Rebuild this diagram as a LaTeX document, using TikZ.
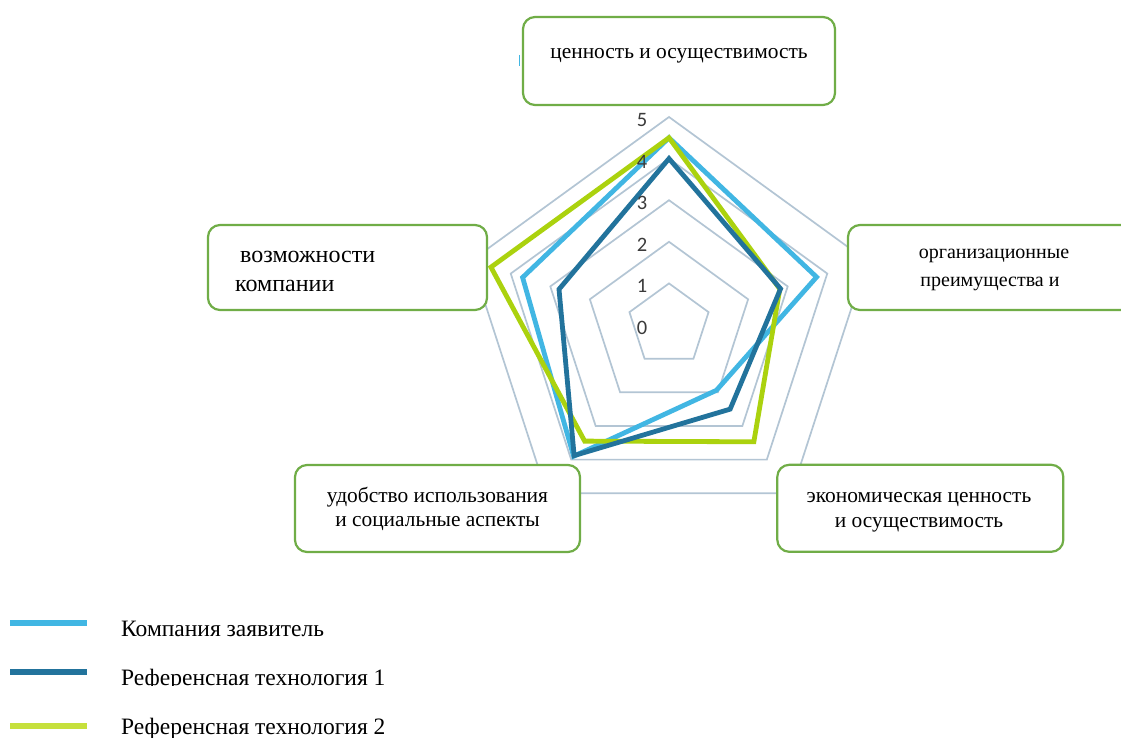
\documentclass[tikz,border=0pt]{standalone}
\usepackage{fontspec}
\setmainfont{Liberation Serif}
\newfontfamily\axisfont{Carlito}
\definecolor{gridline}{HTML}{B3C5D4}
\definecolor{seriesA}{HTML}{41B6E3}
\definecolor{seriesB}{HTML}{22739C}
\definecolor{seriesC}{HTML}{ABD20E}
\definecolor{legendC}{HTML}{C6E03C}
\definecolor{boxgreen}{HTML}{70AD47}
\definecolor{axislabel}{HTML}{3A3A3A}
\begin{document}
\begin{tikzpicture}[x=1pt,y=-1pt,
  labelbox/.style={draw=boxgreen, line width=2.2pt, rounded corners=12pt, fill=white, inner sep=0pt},
  boxtext/.style={font=\fontsize{21.4}{24}\selectfont, inner sep=0pt},
  smalltext/.style={font=\fontsize{20}{24}\selectfont, inner sep=0pt},
  bigtext/.style={font=\fontsize{24}{28}\selectfont, inner sep=0pt},
  legendtext/.style={font=\fontsize{23.5}{26}\selectfont, inner sep=0pt, anchor=base west},
  legendline/.style={line width=6pt},
  gridring/.style={gridline, line width=1.7pt},
  series/.style={line width=4.8pt, line join=miter},
  tick/.style={font=\axisfont\fontsize{20.5}{22}\selectfont, text=axislabel, inner sep=0pt}]
\clip (0,0) rectangle (1121,738);
\fill[white] (0,0) rectangle (1121,738);

% radar chart: five axes, 41.6pt per unit
\begin{scope}[shift={(669,325)}, y=1pt]
  \foreach \r in {1,...,5}
    \draw[gridring] (90:{\r*41.6}) -- (18:{\r*41.6}) -- (-54:{\r*41.6})
      -- (-126:{\r*41.6}) -- (162:{\r*41.6}) -- cycle;
  \draw[series, seriesA] (90:{4.5*41.6}) -- (18:{3.73*41.6}) -- (-54:{1.94*41.6})
      -- (-126:{3.9*41.6}) -- (162:{3.7*41.6}) -- cycle;
  \draw[series, seriesC] (90:{4.5*41.6}) -- (18:{2.8*41.6}) -- (-54:{3.47*41.6})
      -- (-126:{3.45*41.6}) -- (162:{4.5*41.6}) -- cycle;
  \draw[series, seriesB] (90:{4.0*41.6}) -- (18:{2.82*41.6}) -- (-54:{2.5*41.6})
      -- (-126:{3.88*41.6}) -- (162:{2.78*41.6}) -- cycle;
  \foreach \v in {0,...,5}
    \node[tick] (tick\v) at (-27,{\v*41.6-3}) {\v};
\end{scope}

% small mark left of the top box
\draw[seriesA, line width=1.5pt] (519.5,55) -- (519.5,66);

% category boxes
\node[labelbox, minimum width=312pt, minimum height=88pt] (bTop) at (679,61) {};
\node[boxtext, anchor=base] (tTop) at (679,59) {ценность и осуществимость};

\node[labelbox, minimum width=294pt, minimum height=85pt] (bRight) at (995,267.5) {};
\node[smalltext, anchor=base] (tRight1) at (994,258.5) {организационные};
\node[smalltext, anchor=base] (tRight2) at (990,286.5) {преимущества и};

\node[labelbox, minimum width=279pt, minimum height=85pt] (bLeft) at (347.5,267.5) {};
\node[bigtext, anchor=base west] (tLeft1) at (240,262.5) {возможности};
\node[bigtext, anchor=base west] (tLeft2) at (235,291) {компании};

\node[labelbox, minimum width=285pt, minimum height=87pt] (bLowL) at (437.5,508.5) {};
\node[boxtext, anchor=base] (tLowL1) at (437.5,502) {удобство использования};
\node[boxtext, anchor=base] (tLowL2) at (437.5,526) {и социальные аспекты};

\node[labelbox, minimum width=286pt, minimum height=87pt] (bLowR) at (920.3,508.3) {};
\node[boxtext, anchor=base] (tLowR1) at (919,502) {экономическая ценность};
\node[boxtext, anchor=base] (tLowR2) at (919,527) {и осуществимость};

% legend
\coordinate (lA0) at (10,622.7);  \coordinate (lA1) at (87.3,622.7);
\coordinate (lB0) at (10,671.7);  \coordinate (lB1) at (87.3,671.7);
\coordinate (lC0) at (10,726);    \coordinate (lC1) at (87.3,726);
\draw[legendline, seriesA] (lA0) -- (lA1);
\draw[legendline, seriesB] (lB0) -- (lB1);
\draw[legendline, legendC] (lC0) -- (lC1);
\begin{scope}
  \clip (100,600) rectangle (600,636.5);
  \node[legendtext] (gA) at (121,636) {Компания заявитель};
\end{scope}
\begin{scope}
  \clip (100,650) rectangle (600,685.5);
  \node[legendtext] (gB) at (121,685) {Референсная технология 1};
\end{scope}
\begin{scope}
  \clip (100,700) rectangle (600,738);
  \node[legendtext] (gC) at (121,734) {Референсная технология 2};
\end{scope}
\end{tikzpicture}
\end{document}
